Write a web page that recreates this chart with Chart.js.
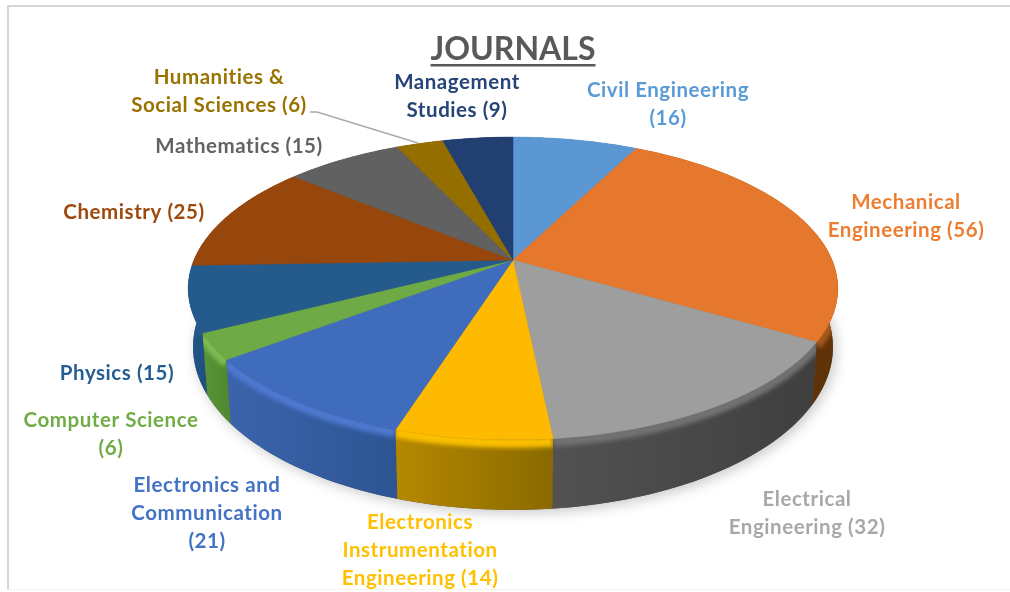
<!DOCTYPE html>
<html>
<head>
<meta charset="utf-8">
<title>Journals</title>
<style>
  html, body { margin: 0; background: #fff; overflow: hidden; }
  #frame { position: absolute; left: 7px; top: 5px; width: 1003px; height: 585px;
           border-left: 2px solid #d6d6d6; border-top: 2px solid #d6d6d6; border-bottom: 1px solid #f2f2f2; box-sizing: border-box; }
  canvas { position: absolute; left: 0; top: 0; filter: blur(0.6px); }
</style>
<script src="https://cdn.jsdelivr.net/npm/chart.js@4/dist/chart.umd.js"></script>
</head>
<body>
<div id="frame"></div>
<canvas id="pie" width="1010" height="592"></canvas>
<script>
const categories = ["Civil Engineering", "Mechanical Engineering", "Electrical Engineering",
  "Electronics Instrumentation Engineering", "Electronics and Communication", "Computer Science",
  "Physics", "Chemistry", "Mathematics", "Humanities & Social Sciences", "Management Studies"];
const values = [16, 56, 32, 14, 21, 6, 15, 25, 15, 6, 9];

const labelLines = [
  ["Civil Engineering", "(16)"],
  ["Mechanical", "Engineering (56)"],
  ["Electrical", "Engineering (32)"],
  ["Electronics", "Instrumentation", "Engineering (14)"],
  ["Electronics and", "Communication", "(21)"],
  ["Computer Science", "(6)"],
  ["Physics (15)"],
  ["Chemistry (25)"],
  ["Mathematics (15)"],
  ["Humanities &", "Social Sciences (6)"],
  ["Management", "Studies (9)"],
];
// centre x, y of first line
const labelAnchors = [[668, 90], [906, 202], [807, 499], [420, 522], [207, 485], [111, 420],
  [117, 373], [134, 212], [239, 146], [219, 77], [457, 82]];

const topColors = ["#5b97d3", "#e6782d", "#9e9e9e", "#fdba00", "#406cbd", "#6eaa45",
  "#255a8c", "#97460c", "#616161", "#946f00", "#223f72"];
const textColors = ["#5b9bd5", "#ed7d31", "#a8a8a8", "#ffc000", "#4472c4", "#70ad47",
  "#255e91", "#9e480e", "#636363", "#997300", "#264478"];
// wall gradient, clockwise start to end
const wallColors = [["#3a6490", "#3a6490"], ["#6e3b0c", "#5f3308"], ["#3f3f3f", "#525252"],
  ["#8a6a00", "#b58800"], ["#2d5592", "#3b64ae"], ["#4f8a30", "#5a9438"],
  ["#1f5080", "#215889"], ["#6e3208", "#6e3208"], ["#444", "#444"], ["#6a5000", "#6a5000"], ["#1a3058", "#1a3058"]];
const rimColors = ["#6fa8dc", "#a85a1c", "#727272", "#fcc000", "#4e78cf", "#7ebc52",
  "#255a8c", "#a04c10", "#777", "#a98300", "#2f5190"];

// tilted disc: top face and the plane of the bottom edge
const disc = { cx: 513, a: 319, p: 0.188, y0: 260, b: 146, yb: 316.5, bb: 157, sx: 0.985 };

function topPt(ang) {
  const u = Math.cos(ang), v = Math.sin(ang), w = 1 - disc.p * v;
  return [disc.cx + disc.a * u / w, disc.y0 + disc.b * v / w];
}
function lowPt(ang) {
  const u = Math.cos(ang), v = Math.sin(ang), w = 1 - disc.p * v;
  return [disc.cx + disc.sx * disc.a * u / w, disc.yb + disc.bb * v / w];
}
function samples(a0, a1) {
  const n = Math.max(2, Math.ceil((a1 - a0) * 40)), out = [];
  for (let i = 0; i <= n; i++) out.push(a0 + (a1 - a0) * i / n);
  return out;
}
function trace(ctx, pts) {
  pts.forEach((p, i) => i ? ctx.lineTo(p[0], p[1]) : ctx.moveTo(p[0], p[1]));
}

const tiltedPie = {
  id: "tiltedPie",
  beforeDatasetDraw(chart) {
    const ctx = chart.ctx;
    const arcs = chart.getDatasetMeta(0).data;

    // soft shadow under the bottom edge
    ctx.save();
    ctx.shadowColor = "rgba(0,0,0,0.22)";
    ctx.shadowBlur = 13;
    ctx.shadowOffsetX = 3;
    ctx.shadowOffsetY = 3;
    ctx.fillStyle = "#555";
    ctx.beginPath();
    trace(ctx, samples(0, Math.PI * 2).map(lowPt));
    ctx.closePath();
    ctx.fill();
    ctx.restore();

    // walls, back to front, each with a bevel along its top edge
    const order = arcs.map((a, i) => i).sort((i, j) =>
      Math.sin((arcs[i].startAngle + arcs[i].endAngle) / 2) - Math.sin((arcs[j].startAngle + arcs[j].endAngle) / 2));
    order.forEach(i => {
      const s = samples(arcs[i].startAngle, arcs[i].endAngle);
      const t = s.map(topPt), l = s.map(lowPt).reverse();
      const g = ctx.createLinearGradient(t[0][0], 0, t[t.length - 1][0], 0);
      g.addColorStop(0, wallColors[i][0]);
      g.addColorStop(1, wallColors[i][1]);
      ctx.save();
      ctx.fillStyle = g;
      ctx.beginPath();
      trace(ctx, t.concat(l));
      ctx.closePath();
      ctx.fill();
      ctx.clip();
      ctx.filter = "blur(2px)";
      ctx.strokeStyle = rimColors[i];
      ctx.lineWidth = 10;
      ctx.beginPath();
      trace(ctx, t.map(p => [p[0], p[1] + 3]));
      ctx.stroke();
      ctx.restore();
    });

    // top face
    arcs.forEach((arc, i) => {
      ctx.fillStyle = topColors[i];
      ctx.strokeStyle = topColors[i];
      ctx.lineWidth = 0.5;
      ctx.beginPath();
      trace(ctx, [[disc.cx, disc.y0]].concat(samples(arc.startAngle, arc.endAngle).map(topPt)));
      ctx.closePath();
      ctx.fill();
      ctx.stroke();
    });
    return false;
  },
  afterDraw(chart) {
    const ctx = chart.ctx;
    const title = chart.options.plugins.title;
    ctx.save();

    // title underline
    ctx.font = title.font.weight + " " + title.font.size + "px " + title.font.family;
    const tw = ctx.measureText(title.text).width;
    ctx.fillStyle = "#595959";
    ctx.fillRect(513 - tw / 2, 64, tw, 2.5);

    // leader for Humanities
    ctx.strokeStyle = "#aaaaaa";
    ctx.lineWidth = 1.4;
    ctx.beginPath();
    ctx.moveTo(310, 112);
    ctx.lineTo(317, 112);
    ctx.lineTo(418, 143);
    ctx.stroke();

    ctx.font = "bold 20.5px Lato, 'Open Sans', sans-serif";
    ctx.letterSpacing = "0.55px";
    ctx.textAlign = "center";
    ctx.textBaseline = "middle";
    labelLines.forEach((lines, i) => {
      ctx.fillStyle = textColors[i];
      lines.forEach((line, k) => ctx.fillText(line, labelAnchors[i][0], labelAnchors[i][1] + k * 28.2));
    });
    ctx.restore();
  },
};

new Chart(document.getElementById("pie"), {
  type: "pie",
  data: {
    labels: categories,
    datasets: [{ data: values, backgroundColor: topColors, borderWidth: 0 }],
  },
  options: {
    responsive: false,
    animation: false,
    layout: { padding: { left: 16, top: 30 } },
    plugins: {
      legend: { display: false },
      tooltip: { enabled: false },
      title: {
        display: true,
        text: "JOURNALS",
        color: "#595959",
        font: { family: "Lato, 'Open Sans', sans-serif", size: 32, weight: "bold" },
        padding: 0,
      },
    },
  },
  plugins: [tiltedPie],
});
</script>
</body>
</html>
